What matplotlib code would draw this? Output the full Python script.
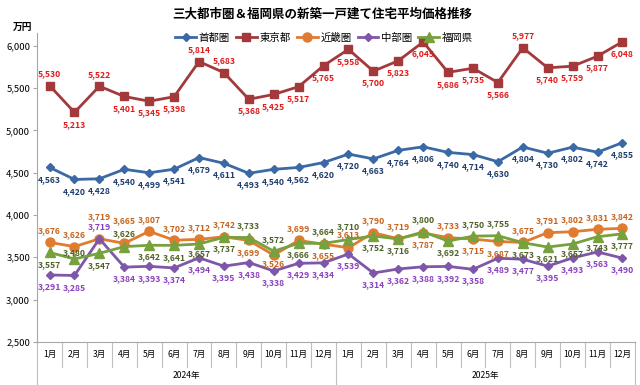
import matplotlib

matplotlib.use("Agg")
import matplotlib.pyplot as plt

plt.rcParams["font.family"] = ["Noto Sans CJK JP", "DejaVu Sans"]

# -- data (万円) --
years = ["2024年", "2025年"]
months = [f"{m}月" for m in range(1, 13)]
series_names = ["首都圏", "東京都", "近畿圏", "中部圏", "福岡県"]

shutoken = [4563, 4420, 4428, 4540, 4499, 4541, 4679, 4611, 4493, 4540, 4562, 4620,
            4720, 4663, 4764, 4806, 4740, 4714, 4630, 4804, 4730, 4802, 4742, 4855]
tokyo = [5530, 5213, 5522, 5401, 5345, 5398, 5814, 5683, 5368, 5425, 5517, 5765,
         5958, 5700, 5823, 6045, 5686, 5735, 5566, 5977, 5740, 5759, 5877, 6048]
kinki = [3676, 3626, 3719, 3665, 3807, 3702, 3712, 3742, 3699, 3526, 3699, 3655,
         3613, 3790, 3719, 3787, 3733, 3715, 3687, 3675, 3791, 3802, 3831, 3842]
chubu = [3291, 3285, 3719, 3384, 3393, 3374, 3494, 3395, 3438, 3338, 3429, 3434,
         3539, 3314, 3362, 3388, 3392, 3358, 3489, 3477, 3395, 3493, 3563, 3490]
fukuoka = [3557, 3480, 3547, 3626, 3642, 3641, 3657, 3737, 3733, 3572, 3666, 3664,
           3710, 3752, 3716, 3800, 3692, 3750, 3755, 3673, 3621, 3657, 3743, 3777]

# label placement per point: + above, - below (multiples of the base offset)
place = {
    "首都圏": [-1] * 24,
    "東京都": [1, -1, 1, -1, -1, -1, 1, 1, -1, -1, -1, -1,
             -1, -1, -1, -1, -1, -1, -1, 1, -1, -1, -1, -1],
    "近畿圏": [1, 1, 1.9, 1.9, 1, 1, 1, 1, -1, -0.7, 1, -1,
             1.1, 1, 1, -1, 1, -1, -1, 1, 1, 1, 1, 1],
    "中部圏": [-1, -1, 1] + [-1] * 21,
    "福岡県": [-1, 0.5, -1, 1.1, -1, -1, -0.8, -1, 1, 1, -1, 1,
             1.1, -1, -1, 1, -1, 1, 1, -1, -1, -0.8, -0.9, -1],
}

styles = {
    "首都圏": dict(color="#3A69A6", marker="D", ms=4.5, label_color="#1F3D6E"),
    "東京都": dict(color="#A3393A", marker="s", ms=6, label_color="#E01B1B"),
    "近畿圏": dict(color="#E07B30", marker="o", ms=6.5, label_color="#C6641E"),
    "中部圏": dict(color="#7E57A8", marker="D", ms=4.5, label_color="#8A3FBF"),
    "福岡県": dict(color="#77A13D", marker="^", ms=6.5, label_color="#4F6228"),
}

values = [shutoken, tokyo, kinki, chubu, fukuoka]
x = list(range(len(shutoken)))

fig = plt.figure(figsize=(6.4, 3.85), dpi=100)
ax = fig.add_axes([0.058, 0.112, 0.934, 0.802])

for name, ys in zip(series_names, values):
    st = styles[name]
    ax.plot(x, ys, color=st["color"], marker=st["marker"], markersize=st["ms"],
            linewidth=2, label=name, clip_on=False)
    for xi, yi, p in zip(x, ys, place[name]):
        ax.annotate(f"{yi:,}", (xi, yi), textcoords="offset points",
                    xytext=(0, 8.5 * p), ha="center", va="center",
                    fontsize=6.2, fontweight="bold", color=st["label_color"])

ax.set_xlim(-0.5, len(x) - 0.5)
ax.set_ylim(2500, 6150)
ax.set_yticks(range(2500, 6001, 500))
ax.set_yticklabels([f"{v:,}" for v in range(2500, 6001, 500)], fontsize=6.8)
ax.set_xticks([])

for side in ("top", "right"):
    ax.spines[side].set_visible(False)
for side in ("left", "bottom"):
    ax.spines[side].set_color("#A6A6A6")
ax.tick_params(axis="y", length=3, color="#A6A6A6", pad=2)

# two-level category axis
xt = ax.get_xaxis_transform()
for i, m in enumerate(months * len(years)):
    ax.text(i, -0.042, m, transform=xt, ha="center", va="center", fontsize=6.2)
for k in range(len(x) + 1):
    low = -0.14 if k % 12 == 0 else -0.08
    ax.plot([k - 0.5, k - 0.5], [0, low], transform=xt, color="#BFBFBF",
            linewidth=0.8, clip_on=False)
for j, yr in enumerate(years):
    ax.text(j * 12 + 5.5, -0.108, yr, transform=xt, ha="center", va="center",
            fontsize=6.2)

fig.text(0.503, 0.963, "三大都市圏＆福岡県の新築一戸建て住宅平均価格推移",
         ha="center", va="center", fontsize=9, fontweight="bold")
fig.text(0.035, 0.93, "万円", ha="center", va="center", fontsize=7,
         fontweight="bold")

ax.legend(loc="center", bbox_to_anchor=(0.48, 0.985), ncol=5, frameon=False,
          fontsize=7.5, handlelength=2.0, handletextpad=0.25, columnspacing=0.6,
          borderaxespad=0)

fig.savefig("out.png", dpi=100)
plt.close(fig)
